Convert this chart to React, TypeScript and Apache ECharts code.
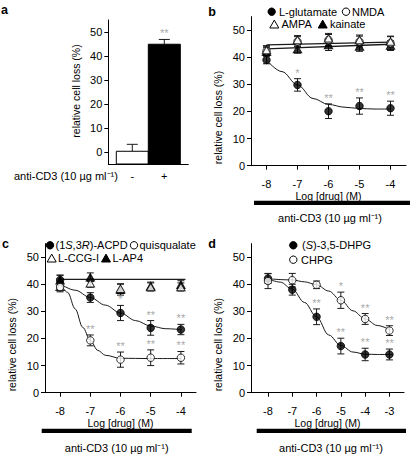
import React, { useEffect, useRef } from 'react';
import * as echarts from 'echarts';

const FONT = 'Liberation Sans, Arial, Helvetica, sans-serif';

// ---------- Panel a ----------
const aCategories = ['-', '+'];
const aMeans = [0.3, 44.9];
const aErrs = [2.9, 2.0];
const aStars = ['', '**'];

// ---------- Panel b ----------
const bDoses = [-8, -7, -6, -5, -4];
const gluMeans = [39.0, 29.8, 20.1, 22.0, 21.2];
const gluErrs = [1.4, 2.3, 2.7, 3.0, 2.6];
const gluStars = ['', '*', '**', '**', '**'];
const nmdaMeans = [42.3, 45.8, 46.4, 45.8, 45.2];
const nmdaErrs = [1.6, 1.8, 2.0, 2.0, 2.4];
const ampaMeans = [42.7, 46.4, 47.0, 46.4, 45.8];
const ampaErrs = [1.6, 1.6, 1.8, 1.8, 2.0];
const kainMeans = [42.0, 43.0, 44.5, 44.0, 44.3];
const kainErrs = [1.5, 1.5, 2.0, 1.8, 1.8];
const gluFit = [[-8, 39.0], [-7.5, 34.7], [-7, 29.8], [-6.5, 24.8], [-6, 22.6], [-5.5, 21.6], [-5, 21.1], [-4.5, 20.9], [-4, 20.9]];
const bUpperFit = [[-8, 44.6], [-4, 45.6]];
const bLowerFit = [[-8, 43.1], [-4, 44.8]];

// ---------- Panel c ----------
const cDoses = [-8, -7, -6, -5, -4];
const acpdMeans = [41.6, 35.1, 29.4, 23.9, 23.3];
const acpdErrs = [1.8, 1.8, 2.8, 2.7, 1.9];
const acpdStars = ['', '', '*', '**', '**'];
const quisMeans = [39.0, 19.3, 12.2, 12.9, 12.9];
const quisErrs = [1.8, 2.0, 2.8, 2.9, 2.3];
const quisStars = ['', '**', '**', '**', '**'];
const ccgMeans = [39.1, 40.4, 38.4, 39.0, 39.0];
const ccgErrs = [1.5, 1.5, 1.8, 1.5, 1.5];
const ap4Means = [41.5, 42.6, 38.0, 39.3, 39.8];
const ap4Errs = [1.8, 1.6, 2.0, 1.5, 1.5];
const acpdFit = [[-8, 40.2], [-7.5, 37.8], [-7, 35.1], [-6.5, 32.3], [-6, 29.4], [-5.5, 26.6], [-5, 24.6], [-4.5, 23.6], [-4, 23.3]];
const quisFit = [[-8, 40.2], [-7.75, 37.0], [-7.5, 30.9], [-7.25, 24.1], [-7, 19.3], [-6.75, 15.6], [-6.5, 13.8], [-6, 12.7], [-5, 12.6], [-4, 12.6]];
const ap4Fit = [[-8, 41.8], [-3.85, 41.8]];

// ---------- Panel d ----------
const dDoses = [-8, -7, -6, -5, -4, -3];
const dhpgMeans = [42.1, 38.0, 28.0, 17.2, 14.1, 14.1];
const dhpgErrs = [1.8, 2.0, 2.9, 2.9, 2.3, 2.0];
const dhpgStars = ['', '', '**', '**', '**', '**'];
const chpgMeans = [41.2, 41.5, 39.8, 34.1, 27.2, 22.9];
const chpgErrs = [2.8, 2.5, 1.4, 3.0, 2.0, 1.8];
const chpgStars = ['', '', '', '*', '**', '**'];
const dhpgFit = [[-8, 42.0], [-7.5, 40.8], [-7, 38.2], [-6.5, 33.3], [-6, 28.0], [-5.5, 21.3], [-5, 17.4], [-4.5, 15.0], [-4, 14.2], [-3.5, 14.1], [-2.85, 14.1]];
const chpgFit = [[-8, 42.0], [-7, 41.6], [-6.5, 40.9], [-6, 39.8], [-5.5, 37.5], [-5, 34.1], [-4.5, 30.2], [-4, 27.2], [-3.5, 24.8], [-3, 23.3]];

const yTicks = [0, 10, 20, 30, 40, 50];
const bTicks = [-8, -7, -6, -5, -4];
const dTicks = [-8, -7, -6, -5, -4, -3];

const YNAME = 'relative cell loss (%)';
const XNAME = 'Log [drug] (M)';
const CD3 = 'anti-CD3 (10 µg ml⁻¹)';

const INK = '#1a1a1a';
const STAR = '#8f8f8f';
const LEG = 11;

function errRender(capHalf: number, upperOnly = false) {
  return (params: any, api: any) => {
    const x = api.value(0);
    const lo = api.value(1);
    const hi = api.value(2);
    const top = api.coord([x, hi]);
    const bot = api.coord([x, lo]);
    const style = { stroke: INK, lineWidth: 1, fill: 'none' };
    const children: any[] = [
      { type: 'line', shape: { x1: top[0], y1: top[1], x2: bot[0], y2: bot[1] }, style },
      { type: 'line', shape: { x1: top[0] - capHalf, y1: top[1], x2: top[0] + capHalf, y2: top[1] }, style },
    ];
    if (!upperOnly) {
      children.push({ type: 'line', shape: { x1: bot[0] - capHalf, y1: bot[1], x2: bot[0] + capHalf, y2: bot[1] }, style });
    }
    return { type: 'group', children };
  };
}

function errSeries(axis: number, xs: number[], means: number[], errs: number[]) {
  return {
    type: 'custom',
    xAxisIndex: axis,
    yAxisIndex: axis,
    renderItem: errRender(3.5),
    encode: { x: 0, y: [1, 2] },
    data: xs.map((x, i) => [x, means[i] - errs[i], means[i] + errs[i]]),
    z: 2,
    silent: true,
  };
}

function markerSeries(axis: number, xs: number[], means: number[], symbol: string, filled: boolean) {
  const tri = symbol === 'triangle';
  return {
    type: 'scatter',
    xAxisIndex: axis,
    yAxisIndex: axis,
    symbol,
    symbolSize: tri ? [8.5, 7.5] : 7.5,
    itemStyle: { color: filled ? '#000' : '#fff', borderColor: '#000', borderWidth: 1 },
    data: xs.map((x, i) => [x, means[i]]),
    z: 5,
    silent: true,
  };
}

function starSeries(axis: number, xs: number[], means: number[], errs: number[], stars: string[]) {
  return {
    type: 'scatter',
    xAxisIndex: axis,
    yAxisIndex: axis,
    symbolSize: 1,
    itemStyle: { color: 'rgba(255,255,255,0)' },
    label: {
      show: true,
      position: 'top',
      distance: 0,
      formatter: (p: any) => p.value[2],
      color: STAR,
      textBorderWidth: 0,
      textBorderColor: 'transparent',
      fontSize: 11,
      fontFamily: FONT,
    },
    data: xs.map((x, i) => [x, means[i] + errs[i], stars[i]]).filter((d) => d[2] !== ''),
    z: 6,
    silent: true,
  };
}

function fitSeries(axis: number, pts: number[][], width = 1) {
  return {
    type: 'line',
    xAxisIndex: axis,
    yAxisIndex: axis,
    data: pts,
    showSymbol: false,
    symbol: 'none',
    smooth: 0.35,
    smoothMonotone: 'x',
    lineStyle: { color: INK, width },
    z: 3,
    silent: true,
  };
}

const axisLineStyle = { show: true, onZero: false, lineStyle: { color: '#000', width: 1 } };
const tickStyle = (vals: number[]) => ({ show: true, length: 4, inside: false, customValues: vals, lineStyle: { color: '#000', width: 1 } });

function yAxisDef(grid: number, min: number, max: number) {
  return {
    type: 'value',
    gridIndex: grid,
    min,
    max,
    axisLine: axisLineStyle,
    axisTick: tickStyle(yTicks),
    axisLabel: { customValues: yTicks, margin: 6, color: '#000', fontSize: 11, fontFamily: FONT },
    splitLine: { show: false },
  };
}

function xAxisDef(grid: number, min: number, max: number, ticks: number[]) {
  return {
    type: 'value',
    gridIndex: grid,
    min,
    max,
    name: XNAME,
    nameLocation: 'middle',
    nameGap: 22.5,
    nameTextStyle: { color: '#000', fontSize: 10.5, fontFamily: FONT },
    axisLine: axisLineStyle,
    axisTick: tickStyle(ticks),
    axisLabel: { customValues: ticks, margin: 13, color: '#000', fontSize: 11, fontFamily: FONT },
    splitLine: { show: false },
  };
}

function txt(x: number, y: number, text: string, opts: any = {}) {
  return {
    type: 'text',
    x,
    y,
    rotation: opts.rotation || 0,
    style: {
      text,
      fill: '#000',
      fontFamily: FONT,
      fontSize: opts.size || 11,
      fontWeight: opts.bold ? 'bold' : 'normal',
      align: opts.align || 'left',
      verticalAlign: 'middle',
      rich: opts.rich,
    },
  };
}

function circ(cx: number, cy: number, filled: boolean) {
  return { type: 'circle', shape: { cx, cy, r: 3.7 }, style: { fill: filled ? '#000' : '#fff', stroke: '#000', lineWidth: 1 } };
}
function tri(cx: number, cy: number, filled: boolean) {
  return {
    type: 'polygon',
    shape: { points: [[cx, cy - 4.2], [cx + 4.5, cy + 3.7], [cx - 4.5, cy + 3.7]] },
    style: { fill: filled ? '#000' : '#fff', stroke: '#000', lineWidth: 1 },
  };
}
function bar(x: number, y: number, w: number) {
  return { type: 'rect', shape: { x, y, width: w, height: 4.3 }, style: { fill: '#000' } };
}

const italic = { i: { fontStyle: 'italic', fontSize: LEG, fontFamily: FONT, fill: '#000' } };

export default function App() {
  const ref = useRef<HTMLDivElement>(null);
  useEffect(() => {
    if (!ref.current) return;
    const chart = echarts.init(ref.current, undefined, { renderer: 'svg' });

    const aX = aMeans.map((_, i) => i + 0.75);

    const option: any = {
      animation: false,
      backgroundColor: '#fff',
      textStyle: { fontFamily: FONT },
      grid: [
        { left: 108.3, top: 20, width: 80, height: 144 },
        { left: 251, top: 16.6, width: 155, height: 149.1 },
        { left: 45, top: 243.6, width: 151, height: 149.1 },
        { left: 251, top: 243.6, width: 153, height: 149.1 },
      ],
      xAxis: [
        {
          type: 'value',
          gridIndex: 0,
          min: 0,
          max: 2.5,
          axisLine: axisLineStyle,
          axisTick: { show: false },
          axisLabel: {
            customValues: aX,
            margin: 6,
            color: '#000',
            fontSize: 11,
            fontFamily: FONT,
            formatter: (v: number) => aCategories[Math.round(v - 0.75)],
          },
          splitLine: { show: false },
        },
        xAxisDef(1, -8.5, -3.5, bTicks),
        xAxisDef(2, -8.5, -3.5, bTicks),
        xAxisDef(3, -8.7, -2.4, dTicks),
      ],
      yAxis: [yAxisDef(0, -5, 55), yAxisDef(1, 0, 55), yAxisDef(2, 0, 55), yAxisDef(3, 0, 55)],
      series: [
        // panel a bars
        {
          type: 'custom',
          xAxisIndex: 0,
          yAxisIndex: 0,
          encode: { x: 0, y: 1 },
          data: aMeans.map((m, i) => [aX[i], m]),
          renderItem: (params: any, api: any) => {
            const x = api.value(0);
            const v = api.value(1);
            const p0 = api.coord([x - 0.5, -5]);
            const p1 = api.coord([x + 0.5, v]);
            return {
              type: 'rect',
              shape: { x: p0[0], y: p1[1], width: p1[0] - p0[0], height: p0[1] - p1[1] },
              style: { fill: params.dataIndex === 0 ? '#fff' : '#000', stroke: '#000', lineWidth: 1 },
            };
          },
          z: 2,
          silent: true,
        },
        {
          type: 'custom',
          xAxisIndex: 0,
          yAxisIndex: 0,
          encode: { x: 0, y: [1, 2] },
          data: aMeans.map((m, i) => [aX[i], m, m + aErrs[i]]),
          renderItem: errRender(5.5, true),
          z: 3,
          silent: true,
        },
        starSeries(0, aX, aMeans, aErrs, aStars),

        // panel b
        fitSeries(1, bUpperFit, 1.3),
        fitSeries(1, bLowerFit, 1.3),
        fitSeries(1, gluFit),
        errSeries(1, bDoses, nmdaMeans, nmdaErrs),
        errSeries(1, bDoses, ampaMeans, ampaErrs),
        errSeries(1, bDoses, kainMeans, kainErrs),
        errSeries(1, bDoses, gluMeans, gluErrs),
        markerSeries(1, bDoses, kainMeans, 'triangle', true),
        markerSeries(1, bDoses, nmdaMeans, 'circle', false),
        markerSeries(1, bDoses, ampaMeans, 'triangle', false),
        markerSeries(1, bDoses, gluMeans, 'circle', true),
        starSeries(1, bDoses, gluMeans, gluErrs, gluStars),

        // panel c
        fitSeries(2, ap4Fit, 1.2),
        fitSeries(2, acpdFit),
        fitSeries(2, quisFit),
        errSeries(2, cDoses, ap4Means, ap4Errs),
        errSeries(2, cDoses, ccgMeans, ccgErrs),
        errSeries(2, cDoses, acpdMeans, acpdErrs),
        errSeries(2, cDoses, quisMeans, quisErrs),
        markerSeries(2, cDoses, ap4Means, 'triangle', true),
        markerSeries(2, cDoses, ccgMeans, 'triangle', false),
        markerSeries(2, cDoses, acpdMeans, 'circle', true),
        markerSeries(2, cDoses, quisMeans, 'circle', false),
        starSeries(2, cDoses, acpdMeans, acpdErrs, acpdStars),
        starSeries(2, cDoses, quisMeans, quisErrs, quisStars),

        // panel d
        fitSeries(3, dhpgFit),
        fitSeries(3, chpgFit),
        errSeries(3, dDoses, dhpgMeans, dhpgErrs),
        errSeries(3, dDoses, chpgMeans, chpgErrs),
        markerSeries(3, dDoses, dhpgMeans, 'circle', true),
        markerSeries(3, dDoses, chpgMeans, 'circle', false),
        starSeries(3, dDoses, dhpgMeans, dhpgErrs, dhpgStars),
        starSeries(3, dDoses, chpgMeans, chpgErrs, chpgStars),
      ],
      graphic: [
        // panel letters
        txt(4.5, 10, 'a', { bold: true, size: 12.5, align: 'center' }),
        txt(212, 12, 'b', { bold: true, size: 12.5, align: 'center' }),
        txt(5.5, 243.5, 'c', { bold: true, size: 12.5, align: 'center' }),
        txt(212, 244.3, 'd', { bold: true, size: 12.5, align: 'center' }),

        // y-axis names
        txt(75.7, 91, YNAME, { rotation: Math.PI / 2, align: 'center', size: 10.5 }),
        txt(217.7, 117.5, YNAME, { rotation: Math.PI / 2, align: 'center', size: 10.5 }),
        txt(11.7, 344.7, YNAME, { rotation: Math.PI / 2, align: 'center', size: 10.5 }),
        txt(217.7, 344.7, YNAME, { rotation: Math.PI / 2, align: 'center', size: 10.5 }),

        // anti-CD3 labels and bars
        txt(14, 176, CD3, {}),
        bar(254, 200.8, 156),
        txt(330, 218, CD3, { align: 'center' }),
        bar(41.7, 428.8, 150),
        txt(116.7, 448, CD3, { align: 'center' }),
        bar(256.7, 428.8, 149.3),
        txt(331, 448, CD3, { align: 'center' }),

        // legend b
        circ(271.7, 11.7, true),
        txt(279, 11.7, 'L-glutamate', { size: LEG }),
        circ(346, 11.7, false),
        txt(352, 11.7, 'NMDA', { size: LEG }),
        tri(274.3, 24.3, false),
        txt(281.5, 24.3, 'AMPA', { size: LEG }),
        tri(322.7, 24.3, true),
        txt(330, 24.3, 'kainate', { size: LEG }),

        // legend c
        circ(50, 245.3, true),
        txt(55.5, 245.3, '(1{i|S},3{i|R})-ACPD', { size: LEG, rich: italic }),
        circ(134, 245.3, false),
        txt(139.5, 245.3, 'quisqualate', { size: LEG }),
        tri(51.7, 258.3, false),
        txt(58, 258.3, 'L-CCG-I', { size: LEG }),
        tri(106, 258.3, true),
        txt(112.5, 258.3, 'L-AP4', { size: LEG }),

        // legend d
        circ(293.3, 245.3, true),
        txt(302, 245.3, '({i|S})-3,5-DHPG', { size: LEG, rich: italic }),
        circ(293.3, 259.7, false),
        txt(301, 259.7, 'CHPG', { size: LEG }),
      ],
    };

    chart.setOption(option);
    return () => chart.dispose();
  }, []);

  return (
    <div
      ref={ref}
      style={{ position: 'absolute', left: 0, top: 0, width: 413, height: 456, background: '#fff' }}
    />
  );
}
